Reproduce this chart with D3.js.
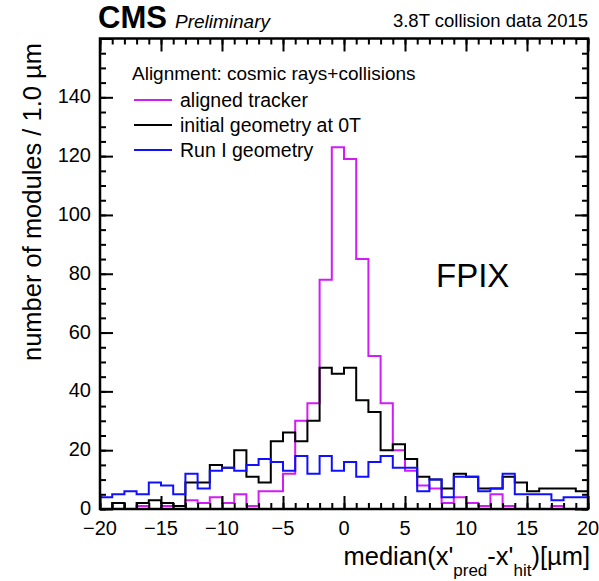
<!DOCTYPE html>
<html>
<head>
<meta charset="utf-8">
<script src="https://cdn.jsdelivr.net/npm/d3@7"></script>
<style>
  html, body { margin: 0; padding: 0; background: #fff; }
  text { font-family: "Liberation Sans", Arial, Helvetica, sans-serif; fill: #000; }
</style>
</head>
<body>
<svg id="chart" width="599" height="581"></svg>
<script>
// Histogram binning: 40 bins of 1 µm from -20 to 20
const binLow = -20;
const binWidth = 1;

// Module counts per bin
const alignedTracker = [0, 2, 0, 1, 0, 1, 0, 3, 2, 4, 2, 5, 1, 6, 6, 12, 30, 36, 78, 123,
                        119, 85, 52, 36, 20, 13, 8, 7, 2, 4, 2, 1, 5, 1, 0, 0, 0, 1, 0, 0];
const initialGeometry = [0, 2, 0, 2, 3, 2, 1, 9, 9, 15, 14, 20, 11, 9, 23, 26, 23, 30, 48, 46,
                         48, 37, 33, 20, 22, 17, 11, 10, 7, 12, 11, 7, 7, 11, 9, 6, 7, 7, 7, 6];
const runIGeometry = [4, 5, 6, 5, 9, 8, 5, 12, 7, 13, 14, 13, 15, 17, 16, 13, 18, 12, 18, 13,
                      16, 11, 16, 18, 14, 14, 6, 10, 4, 11, 11, 6, 7, 12, 5, 5, 5, 3, 4, 4];

const seriesNames = ["aligned tracker", "initial geometry at 0T", "Run I geometry"];
const seriesColors = ["#d21cf5", "#000000", "#1010ff"];

const xTicksMajor = [-20, -15, -10, -5, 0, 5, 10, 15, 20];
const yTicksMajor = [0, 20, 40, 60, 80, 100, 120, 140];

const svg = d3.select("#chart");
const L = 100, R = 588, T = 38.5, B = 509;

const x = d3.scaleLinear().domain([-20, 20]).range([L, R]);
const y = d3.scaleLinear().domain([0, 160]).range([B, T]);

// Step outline for a histogram
function stepPath(vals) {
  const p = d3.path();
  p.moveTo(x(binLow), y(0));
  vals.forEach((v, i) => {
    const x0 = x(binLow + i * binWidth), x1 = x(binLow + (i + 1) * binWidth);
    p.lineTo(x0, y(v));
    p.lineTo(x1, y(v));
  });
  p.lineTo(x(binLow + vals.length * binWidth), y(0));
  return p.toString();
}

const plot = svg.append("g");
[alignedTracker, initialGeometry, runIGeometry].forEach((vals, k) => {
  plot.append("path")
    .attr("d", stepPath(vals))
    .attr("fill", "none")
    .attr("stroke", seriesColors[k])
    .attr("stroke-width", 2)
    .attr("stroke-linejoin", "miter");
});

// Axes with ticks on all four sides, pointing inward
const xMinor = d3.range(-20, 20.001, 1);
const yMinor = d3.range(0, 160.001, 5);
const axes = svg.append("g");

function styleAxis(g) {
  g.select(".domain").remove();
  g.selectAll("line").attr("stroke", "#000").attr("stroke-width", 2);
}
function tickSet(values, len) {
  axes.append("g").attr("transform", `translate(0,${B})`)
    .call(d3.axisBottom(x).tickValues(values.x).tickSize(-len).tickFormat("")).call(styleAxis);
  axes.append("g").attr("transform", `translate(0,${T})`)
    .call(d3.axisTop(x).tickValues(values.x).tickSize(-len).tickFormat("")).call(styleAxis);
  axes.append("g").attr("transform", `translate(${L},0)`)
    .call(d3.axisLeft(y).tickValues(values.y).tickSize(-len).tickFormat("")).call(styleAxis);
  axes.append("g").attr("transform", `translate(${R},0)`)
    .call(d3.axisRight(y).tickValues(values.y).tickSize(-len).tickFormat("")).call(styleAxis);
}
tickSet({ x: xMinor, y: yMinor }, 6);
tickSet({ x: xTicksMajor, y: d3.range(0, 161, 20) }, 13);

// Frame
svg.append("rect")
  .attr("x", L).attr("y", T).attr("width", R - L).attr("height", B - T)
  .attr("fill", "none").attr("stroke", "#000").attr("stroke-width", 2.5);

// Tick labels
const fmt = d => (d < 0 ? "\u2212" + Math.abs(d) : String(d));
svg.append("g").selectAll("text").data(xTicksMajor).join("text")
  .attr("x", d => x(d)).attr("y", B + 26)
  .attr("text-anchor", "middle").attr("font-size", 20)
  .text(fmt);
svg.append("g").selectAll("text").data(yTicksMajor).join("text")
  .attr("x", L - 9).attr("y", d => y(d) + 6)
  .attr("text-anchor", "end").attr("font-size", 20)
  .text(d => String(d));

// Axis titles
const xt = svg.append("text").attr("x", 590).attr("y", 565)
  .attr("text-anchor", "end").attr("font-size", 25.5);
xt.append("tspan").text("median(x'");
xt.append("tspan").attr("font-size", 17).attr("dy", 11).text("pred");
xt.append("tspan").attr("dy", -11).text("-x'");
xt.append("tspan").attr("font-size", 17).attr("dy", 11).text("hit");
xt.append("tspan").attr("dy", -11).text(")[\u00b5m]");

svg.append("text")
  .attr("transform", "translate(41,43) rotate(-90)")
  .attr("text-anchor", "end").attr("font-size", 25.5)
  .text("number of modules / 1.0 \u00b5m");

// Header
svg.append("text").attr("x", 98).attr("y", 28)
  .attr("font-size", 31).attr("font-weight", "bold").text("CMS");
svg.append("text").attr("x", 175).attr("y", 28)
  .attr("font-size", 19).attr("font-style", "italic").text("Preliminary");
svg.append("text").attr("x", 588).attr("y", 27)
  .attr("text-anchor", "end").attr("font-size", 18.5).text("3.8T collision data 2015");

// Legend
svg.append("text").attr("x", 132).attr("y", 80)
  .attr("font-size", 19).text("Alignment: cosmic rays+collisions");
const legend = svg.append("g").selectAll("g").data(seriesNames).join("g")
  .attr("transform", (d, i) => `translate(0,${100 + i * 25})`);
legend.append("line")
  .attr("x1", 134).attr("x2", 172).attr("y1", 0).attr("y2", 0)
  .attr("stroke", (d, i) => seriesColors[i]).attr("stroke-width", 2);
legend.append("text").attr("x", 180).attr("y", 7)
  .attr("font-size", 19.5).text(d => d);

// Detector label
svg.append("text").attr("x", 436).attr("y", 287)
  .attr("font-size", 33).text("FPIX");
</script>
</body>
</html>
